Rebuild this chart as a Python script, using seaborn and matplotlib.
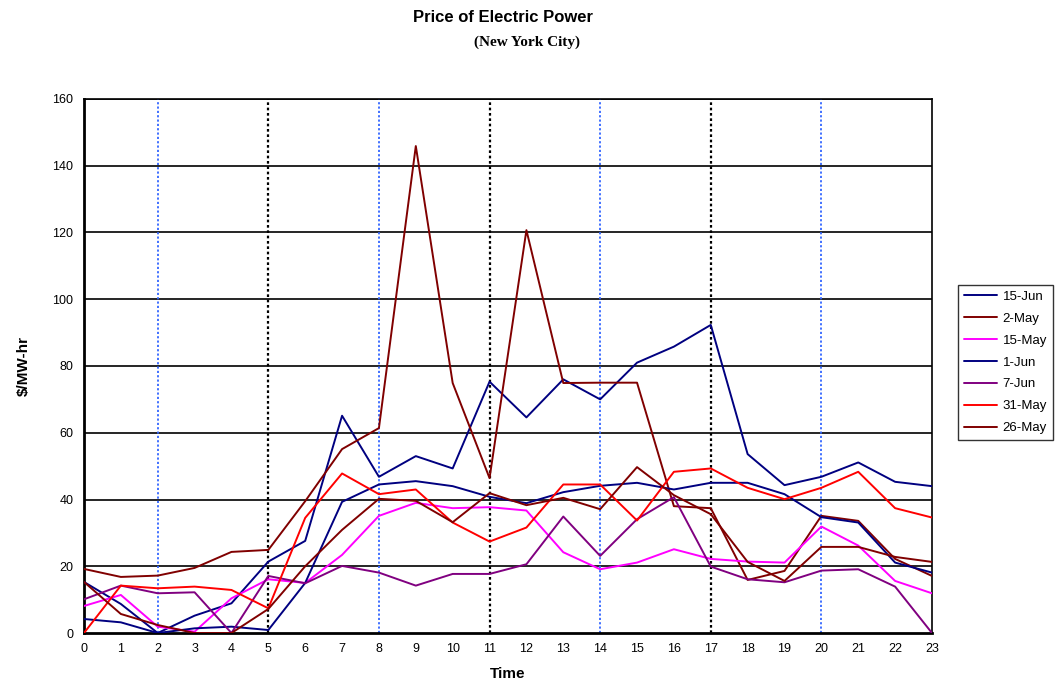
import pandas as pd
import matplotlib.pyplot as plt
import seaborn as sns

horas = list(range(24))

jun15 = [15.3, 8.7, 0, 5.2, 8.9, 21.4, 27.6, 65.1, 46.8, 53.0, 49.3, 75.3, 64.6, 76.0,
         70.0, 81.0, 85.8, 92.3, 53.6, 44.3, 46.8, 51.1, 45.3, 44.0]
may2 = [19.2, 16.8, 17.2, 19.5, 24.3, 24.9, 39.5, 55.1, 61.4, 145.9, 74.9, 46.4, 120.7, 74.9,
        75.0, 75.0, 38.0, 37.4, 15.9, 18.6, 35.1, 33.6, 22.2, 17.1]
may15 = [8.1, 11.4, 1.9, 0.4, 10.4, 16.1, 15.0, 23.4, 35.1, 39.0, 37.4, 37.7, 36.7, 24.2,
         19.1, 21.1, 25.1, 22.2, 21.4, 21.1, 31.9, 26.2, 15.6, 11.9]
jun1 = [4.2, 3.2, 0, 1.4, 1.9, 0.9, 15.0, 39.3, 44.5, 45.5, 44.0, 40.8, 38.9, 42.2,
        44.1, 45.0, 43.0, 45.0, 45.0, 41.6, 34.7, 33.1, 21.1, 18.1]
jun7 = [10.1, 14.2, 11.9, 12.2, 0, 17.1, 14.9, 20.1, 18.1, 14.2, 17.7, 17.7, 20.6, 34.9,
        23.1, 34.1, 40.7, 19.9, 16.1, 15.2, 18.7, 19.1, 13.9, 0]
may31 = [0, 14.2, 13.4, 13.9, 12.9, 7.4, 34.5, 47.8, 41.6, 43.0, 33.1, 27.4, 31.6, 44.5,
         44.5, 33.7, 48.3, 49.3, 43.5, 40.1, 43.5, 48.3, 37.4, 34.6]
may26 = [15.3, 5.7, 2.4, 0, 0, 7.2, 20.0, 30.9, 40.2, 39.6, 33.2, 41.9, 38.3, 40.5,
         37.1, 49.7, 41.3, 35.6, 21.3, 15.6, 25.8, 25.8, 22.8, 21.3]

dias = ['15-Jun', '2-May', '15-May', '1-Jun', '7-Jun', '31-May', '26-May']
series = [jun15, may2, may15, jun1, jun7, may31, may26]
colores = {'15-Jun': '#000080', '2-May': '#800000', '15-May': '#FF00FF', '1-Jun': '#000080',
           '7-Jun': '#800080', '31-May': '#FF0000', '26-May': '#800000'}

filas = []
for d, vals in zip(dias, series):
    for h, v in zip(horas, vals):
        filas.append({'hora': h, 'precio': v, 'dia': d})
df = pd.DataFrame(filas)

sns.set_style('white')
plt.rcParams['font.family'] = ['Liberation Sans', 'DejaVu Sans']
plt.rcParams['text.color'] = 'black'
plt.rcParams['axes.labelcolor'] = 'black'

fig = plt.figure(figsize=(10.55, 6.96), dpi=100)
ax = fig.add_axes([0.0796, 0.0905, 0.8038, 0.7673])

# grid horizontal
for yv in range(20, 161, 20):
    ax.axhline(yv, color='black', lw=1.2, zorder=1)

# lineas verticales punteadas
for xv in [2, 8, 14, 20]:
    ax.axvline(xv, color='#3366FF', lw=1.3, ls=(0, (1.2, 1.2)), zorder=1)
for xv in [5, 11, 17]:
    ax.axvline(xv, color='black', lw=1.6, ls=(0, (1.2, 1.2)), zorder=1)

sns.lineplot(data=df, x='hora', y='precio', hue='dia', hue_order=dias, palette=colores,
             lw=1.4, ax=ax, zorder=3, sort=False, estimator=None)

ax.set_xlim(0, 23)
ax.set_ylim(0, 160)
ax.set_xticks(horas)
ax.set_yticks(range(0, 161, 20))
ax.tick_params(axis='both', direction='out', length=4, width=1, labelsize=9, colors='black')
for s in ax.spines.values():
    s.set_color('black')
    s.set_linewidth(1.2)
ax.spines['left'].set_linewidth(2)
ax.spines['bottom'].set_linewidth(2)

ax.set_xlabel('Time', fontsize=11, fontweight='bold', labelpad=8)
ax.set_ylabel('$/MW-hr', fontsize=11, fontweight='bold', labelpad=16)

leg = ax.legend(loc='upper left', bbox_to_anchor=(1.031, 0.652), frameon=True, fontsize=9.5,
                fancybox=False, handlelength=2.5, handletextpad=0.4, borderpad=0.45,
                borderaxespad=0, labelspacing=0.73)
leg.get_frame().set_edgecolor('black')
leg.get_frame().set_linewidth(1.0)
leg.set_title(None)

fig.text(0.477, 0.975, 'Price of Electric Power', ha='center', va='center',
         fontsize=12, fontweight='bold')
fig.text(0.5, 0.94, '(New York City)', ha='center', va='center', fontsize=11,
         fontweight='bold', family='Liberation Serif')

fig.savefig('out.png', dpi=100)
